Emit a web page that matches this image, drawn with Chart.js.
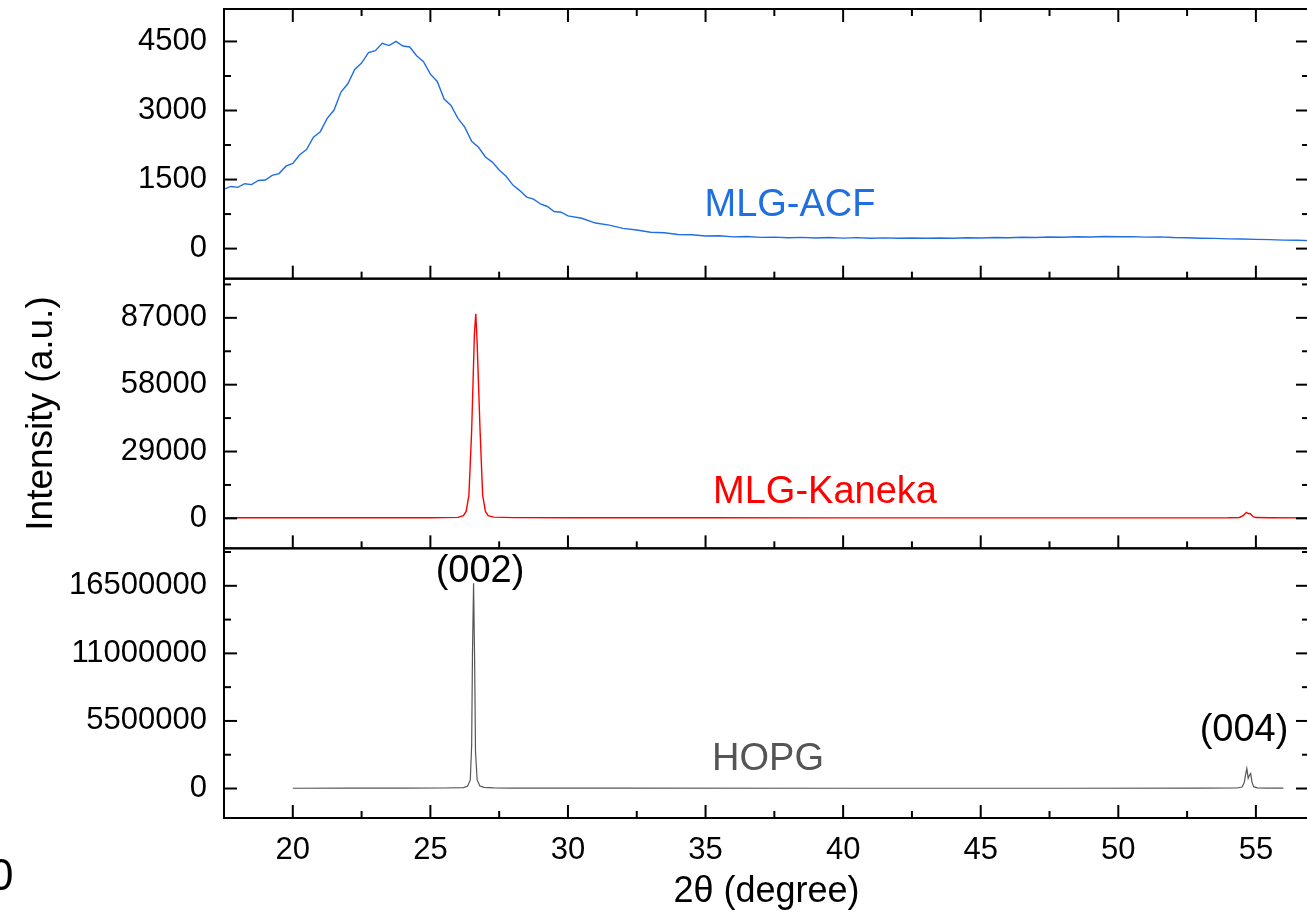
<!DOCTYPE html>
<html><head><meta charset="utf-8">
<script src="https://cdn.jsdelivr.net/npm/chart.js@4.4.1/dist/chart.umd.min.js"></script>
<style>
html,body{margin:0;padding:0;overflow:hidden;background:#fff}
#wrap{position:absolute;left:0;top:0;width:1309px;height:916px}
</style>
</head><body><div id="wrap"><canvas id="c"></canvas></div>
<script>
// ---------- data ----------
const acfX = [17.5,17.75,18,18.25,18.5,18.75,19,19.25,19.5,19.75,20,20.25,20.5,20.75,21,21.25,21.5,21.75,22,22.25,22.5,22.75,23,23.25,23.5,23.75,24,24.25,24.5,24.75,25,25.25,25.5,25.75,26,26.25,26.5,26.75,27,27.25,27.5,27.75,28,28.25,28.5,28.75,29,29.25,29.5,29.75,30,
  30.5,31,31.5,32,32.5,33,33.5,34,34.5,35,35.5,36,36.5,37,37.5,38,38.5,39,39.5,40,40.5,41,41.5,42,42.5,43,43.5,44,44.5,45,45.5,46,46.5,47,47.5,48,48.5,49,49.5,50,50.5,51,51.5,52,52.5,53,53.5,54,54.5,55,55.5,56,56.5,57];
const acfY = [1290,1350,1330,1410,1390,1480,1490,1590,1630,1790,1850,2040,2150,2420,2540,2830,3010,3400,3580,3890,4030,4260,4300,4460,4410,4500,4400,4380,4190,4060,3790,3630,3250,3110,2830,2640,2330,2200,1990,1880,1710,1570,1380,1260,1120,1075,970,915,805,790,710,
  660,555,510,440,405,355,345,305,300,275,280,255,262,245,250,235,245,232,240,228,238,226,234,225,232,224,230,226,235,230,240,236,246,242,252,248,258,252,262,256,260,250,254,240,236,226,222,212,210,200,196,185,182,172];

const kanX = [17.5,20,23,25,26,26.2,26.3,26.4,26.5,26.6,26.65,26.7,26.8,26.9,27.0,27.1,27.3,28,30,35,40,45,50,54,54.4,54.55,54.65,54.72,54.8,54.9,55.0,55.5,57];
const kanY = [250,260,280,300,420,1200,3000,10000,38000,80000,88800,76000,40000,10000,3000,1200,520,330,270,240,230,230,230,260,400,1300,2600,2100,2000,700,350,250,220];

const hopgX = [20,22,24,25.5,26.2,26.35,26.45,26.5,26.53,26.57,26.61,26.64,26.7,26.8,26.95,27.3,28,32,40,48,53,54.3,54.5,54.58,54.63,54.67,54.72,54.77,54.81,54.86,54.92,55.05,55.4,56];
const hopgY = [20000,25000,30000,40000,80000,180000,700000,3500000,11000000,16700000,10000000,3000000,700000,200000,90000,50000,35000,25000,20000,20000,25000,40000,120000,500000,1200000,1630000,840000,1100000,1220000,500000,150000,50000,30000,25000];

// ---------- ticks ----------
const xTicks = [20,25,30,35,40,45,50,55];
const xMinor = [22.5,27.5,32.5,37.5,42.5,47.5,52.5];
const acfTicks = [0,1500,3000,4500];
const acfMinor = [750,2250,3750];
const kanTicks = [0,29000,58000,87000];
const kanMinor = [14500,43500,72500,101500];
const hopgTicks = [0,5500000,11000000,16500000];
const hopgMinor = [2750000,8250000,13750000,19250000];

const FONT = "'Liberation Sans', Arial, sans-serif";
const BLUE = '#1f6fe3';
function pts(xs, ys){ return xs.map((x,i)=>({x:x, y:ys[i]})); }

function yScale(min, max, ticks, weight, title){
  return {
    type:'linear', position:'left', stack:'panels', stackWeight:1, weight:weight,
    min:min, max:max,
    grid:{display:false, drawTicks:false}, border:{display:false},
    afterBuildTicks: s => { s.ticks = ticks.map(v=>({value:v})); },
    afterFit: s => { s.width = 224; s.paddingTop = 0; s.paddingBottom = 0; },
    ticks:{padding:17, color:'#000', font:{family:FONT, size:31}, callback: v => String(v)},
    title: title ? {display:true, text:title, color:'#000', font:{family:FONT, size:37}, padding:{top:20,bottom:0}} : {display:false}
  };
}

function line(ctx,x1,y1,x2,y2){ ctx.beginPath(); ctx.moveTo(x1,y1); ctx.lineTo(x2,y2); ctx.stroke(); }

const framePlugin = {
  id:'frame',
  afterDatasetsDraw(chart){
    const ctx = chart.ctx, ca = chart.chartArea, xs = chart.scales.x;
    const panels = [
      {s:chart.scales.yA, maj:acfTicks, min:acfMinor, top:true},
      {s:chart.scales.yK, maj:kanTicks, min:kanMinor, top:false},
      {s:chart.scales.yH, maj:hopgTicks, min:hopgMinor, top:false}
    ];
    ctx.save();
    ctx.strokeStyle = '#000'; ctx.lineWidth = 2; ctx.lineCap = 'butt';
    for (const p of panels){
      const t = p.s.top, b = p.s.bottom;
      ctx.strokeRect(ca.left, t, ca.right - ca.left, b - t);
      for (const [arr,len] of [[p.maj,13],[p.min,7]]) for (const v of arr){
        const y = p.s.getPixelForValue(v);
        if (y < t - 0.5 || y > b + 0.5) continue;
        line(ctx, ca.left, y, ca.left + len, y);
        line(ctx, ca.right, y, ca.right - len, y);
      }
      for (const [arr,len] of [[xTicks,13],[xMinor,7]]) for (const v of arr){
        const x = xs.getPixelForValue(v);
        line(ctx, x, b, x, b - len);
        if (p.top) line(ctx, x, t, x, t + len);
      }
    }
    ctx.restore();
  },
  afterDraw(chart){
    const ctx = chart.ctx;
    ctx.save();
    ctx.textAlign = 'center'; ctx.textBaseline = 'alphabetic';
    ctx.font = "38px " + FONT;
    ctx.fillStyle = BLUE; ctx.fillText('MLG-ACF', 790, 216);
    ctx.fillStyle = '#ff0000'; ctx.fillText('MLG-Kaneka', 825, 503);
    ctx.fillStyle = '#555555'; ctx.fillText('HOPG', 768, 770);
    ctx.fillStyle = '#000'; ctx.fillText('(002)', 480, 582);
    ctx.fillText('(004)', 1244, 741);
    ctx.textAlign = 'left'; ctx.font = "44px " + FONT;
    ctx.fillText('0', -11, 890);
    ctx.restore();
  }
};

new Chart(document.getElementById('c'), {
  type:'line',
  data:{ datasets:[
    {label:'MLG-ACF', data:pts(acfX, acfY), yAxisID:'yA', borderColor:BLUE, borderWidth:1.4, pointRadius:0, tension:0, fill:false},
    {label:'MLG-Kaneka', data:pts(kanX, kanY), yAxisID:'yK', borderColor:'#ff0000', borderWidth:1.4, pointRadius:0, tension:0, fill:false},
    {label:'HOPG', data:pts(hopgX, hopgY), yAxisID:'yH', borderColor:'#555555', borderWidth:1.2, pointRadius:0, tension:0, fill:false}
  ]},
  options:{
    responsive:true, maintainAspectRatio:false, animation:false,
    layout:{padding:{top:9, left:0, right:0, bottom:0}},
    plugins:{legend:{display:false}, tooltip:{enabled:false}},
    scales:{
      x:{type:'linear', position:'bottom', min:17.5, max:56.93,
        grid:{display:false, drawTicks:false}, border:{display:false},
        afterBuildTicks: s => { s.ticks = xTicks.map(v=>({value:v})); },
        afterFit: s => { s.height = 98; s.paddingLeft = 0; s.paddingRight = 0; },
        ticks:{padding:14, autoSkip:false, maxRotation:0, color:'#000', font:{family:FONT, size:31}, callback: v => String(v)},
        title:{display:true, text:'2θ (degree)', color:'#000', font:{family:FONT, size:36}, padding:{top:0, bottom:2}}
      },
      yH: yScale(-2400000, 19550000, hopgTicks, 1, null),
      yK: yScale(-13000, 104000, kanTicks, 2, 'Intensity (a.u.)'),
      yA: yScale(-653, 5205, acfTicks, 3, null)
    }
  },
  plugins:[framePlugin]
});
</script>
</body></html>
